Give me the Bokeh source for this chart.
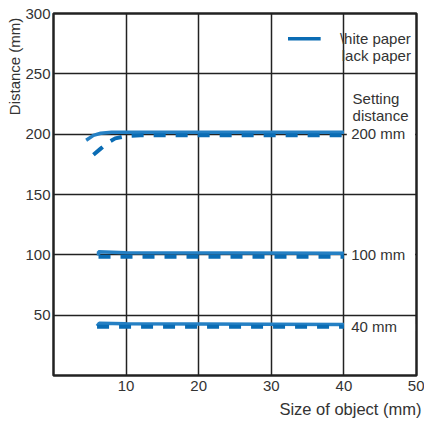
import math
from bokeh.plotting import figure
from bokeh.models import FixedTicker, Label, Title
from bokeh.embed import file_html
from bokeh.resources import INLINE

# ---- data ----
white_200_x = [4.5, 5.5, 6.5, 8.0, 40.0]
white_200_y = [195.0, 199.0, 200.8, 201.6, 201.6]
black_200_x = [5.5, 6.5, 7.5, 8.5, 10.0, 12.0, 40.0]
black_200_y = [183.0, 188.0, 193.0, 196.5, 198.5, 199.0, 199.0]
white_100_x = [6.2, 6.2, 10.0, 40.0]
white_100_y = [99.5, 102.5, 101.8, 101.3]
black_100_x = [6.2, 40.0]
black_100_y = [98.5, 98.5]
white_40_x = [6.0, 6.3, 10.0, 40.0]
white_40_y = [41.0, 43.3, 42.8, 42.3]
black_40_x = [6.0, 40.0]
black_40_y = [40.3, 40.3]

x_ticks = [10, 20, 30, 40, 50]
y_ticks = [50, 100, 150, 200, 250, 300]
setting_labels = ["200 mm", "100 mm", "40 mm"]
setting_values = [200, 100, 40]

BLUE_S = "#2580c4"
BLUE_D = "#0a6cb4"
TXT = "#333333"
FONT = "Liberation Sans"
FS = "15px"

p = figure(width=424, height=422, x_range=(0, 50), y_range=(0, 300),
           output_backend="svg", toolbar_location=None,
           min_border_left=53, min_border_right=8, min_border_top=13, min_border_bottom=47)

p.outline_line_color = "#222222"
p.outline_line_width = 2.5
p.background_fill_color = "white"
p.border_fill_color = "white"

for ax in (p.xaxis[0], p.yaxis[0]):
    ax.axis_line_color = None
    ax.major_tick_line_color = None
    ax.minor_tick_line_color = None
    ax.major_tick_out = 0
    ax.major_tick_in = 0
    ax.minor_tick_out = 0
    ax.minor_tick_in = 0
    ax.major_label_text_font = FONT
    ax.major_label_text_font_size = FS
    ax.major_label_text_color = TXT
p.xaxis.ticker = FixedTicker(ticks=x_ticks)
p.yaxis.ticker = FixedTicker(ticks=y_ticks)
p.xaxis.major_label_standoff = 5
p.yaxis.major_label_standoff = 3

p.xgrid.ticker = FixedTicker(ticks=x_ticks)
p.ygrid.ticker = FixedTicker(ticks=y_ticks)
for g in (p.xgrid[0], p.ygrid[0]):
    g.grid_line_color = "#222222"
    g.grid_line_width = 1.5

# white masks behind the setting-distance labels (right of the last data point)
p.quad(left=[40.4] * len(setting_values), right=[49.8] * len(setting_values),
       bottom=[v - 3 for v in setting_values], top=[v + 3 for v in setting_values],
       fill_color="white", line_color=None)

# curves
for xs, ys in ((white_200_x, white_200_y), (white_100_x, white_100_y), (white_40_x, white_40_y)):
    p.line(xs, ys, line_color=BLUE_S, line_width=3.5)
for xs, ys in ((black_200_x, black_200_y), (black_100_x, black_100_y), (black_40_x, black_40_y)):
    p.line(xs, ys, line_color=BLUE_D, line_width=4, line_dash="12 10")

# legend (manual)
p.line([32.3, 36.8], [279, 279], line_color=BLUE_D, line_width=3.5)

def lab(x, y, t, **kw):
    d = dict(x=x, y=y, text=t, text_font=FONT, text_font_size=FS, text_color=TXT,
             text_baseline="middle", text_align="left")
    d.update(kw)
    p.add_layout(Label(**d))

lab(39.45, 279, "\\hite paper")
lab(39.7, 265, "lack paper")
lab(41.2, 229.6, "Setting")
lab(41.2, 215.5, "distance")
for t, v in zip(setting_labels, setting_values):
    lab(41.0, v + 0.5, t)

xt = Title(text="Size of object (mm)", align="right", text_font=FONT, text_font_size="16.5px",
           text_font_style="normal", text_color=TXT, standoff=9, offset=-5)
p.add_layout(xt, "below")
yt = Title(text="Distance  (mm)", align="right", text_font=FONT, text_font_size=FS,
           text_font_style="normal", text_color=TXT, standoff=0)
p.add_layout(yt, "left")

open("out.html", "w").write(file_html(p, INLINE))
